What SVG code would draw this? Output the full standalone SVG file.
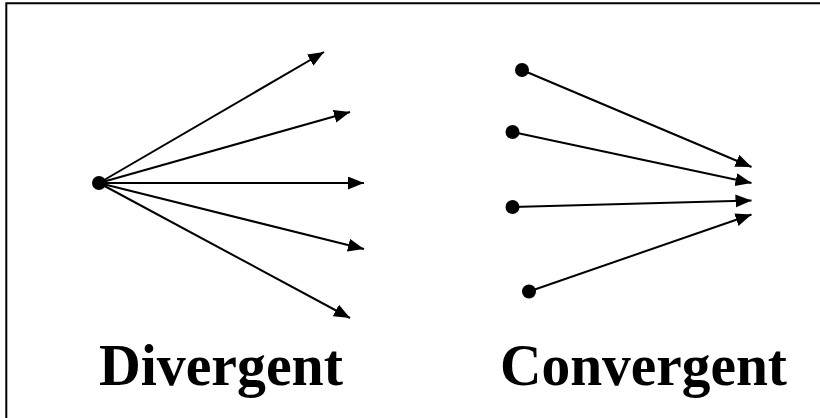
<svg xmlns="http://www.w3.org/2000/svg" width="820" height="418" viewBox="0 0 820 418">
<style>
.ln{stroke:#000;stroke-width:2;fill:none;marker-end:url(#ah)}
.dot{fill:#000}
.lbl{font-family:"Liberation Serif","Times New Roman",serif;font-weight:bold;font-size:60px;fill:#000}
</style>
<defs>
<marker id="ah" markerUnits="userSpaceOnUse" markerWidth="17" markerHeight="14" refX="16" refY="6.5" orient="auto">
<path d="M0,0 L16,6.5 L0,13 Z" fill="#000"/>
</marker>
</defs>
<rect width="820" height="418" fill="#fff"/>
<path d="M6.3,418 V3.3 H820" stroke="#000" stroke-width="2" fill="none"/>
<g id="connectors">
<line class="ln" x1="99" y1="183" x2="324" y2="52"/>
<line class="ln" x1="99" y1="183" x2="350" y2="112"/>
<line class="ln" x1="99" y1="183" x2="364" y2="183"/>
<line class="ln" x1="99" y1="183" x2="364" y2="249"/>
<line class="ln" x1="99" y1="183" x2="350" y2="318"/>
<line class="ln" x1="522" y1="70" x2="751.5" y2="167"/>
<line class="ln" x1="512.5" y1="132" x2="751.5" y2="183"/>
<line class="ln" x1="512.5" y1="207" x2="751.5" y2="200.5"/>
<line class="ln" x1="529" y1="291.5" x2="751.5" y2="214.5"/>
</g>
<g id="div-source"><circle class="dot" cx="99" cy="183" r="7"/></g>
<g id="conv-source-1"><circle class="dot" cx="522" cy="70" r="7"/></g>
<g id="conv-source-2"><circle class="dot" cx="512.5" cy="132" r="7"/></g>
<g id="conv-source-3"><circle class="dot" cx="512.5" cy="207" r="7"/></g>
<g id="conv-source-4"><circle class="dot" cx="529" cy="291.5" r="7"/></g>
<g id="label-divergent"><text class="lbl" x="99" y="385" textLength="244" lengthAdjust="spacingAndGlyphs">Divergent</text></g>
<g id="label-convergent"><text class="lbl" x="500" y="385" textLength="287" lengthAdjust="spacingAndGlyphs">Convergent</text></g>
</svg>
